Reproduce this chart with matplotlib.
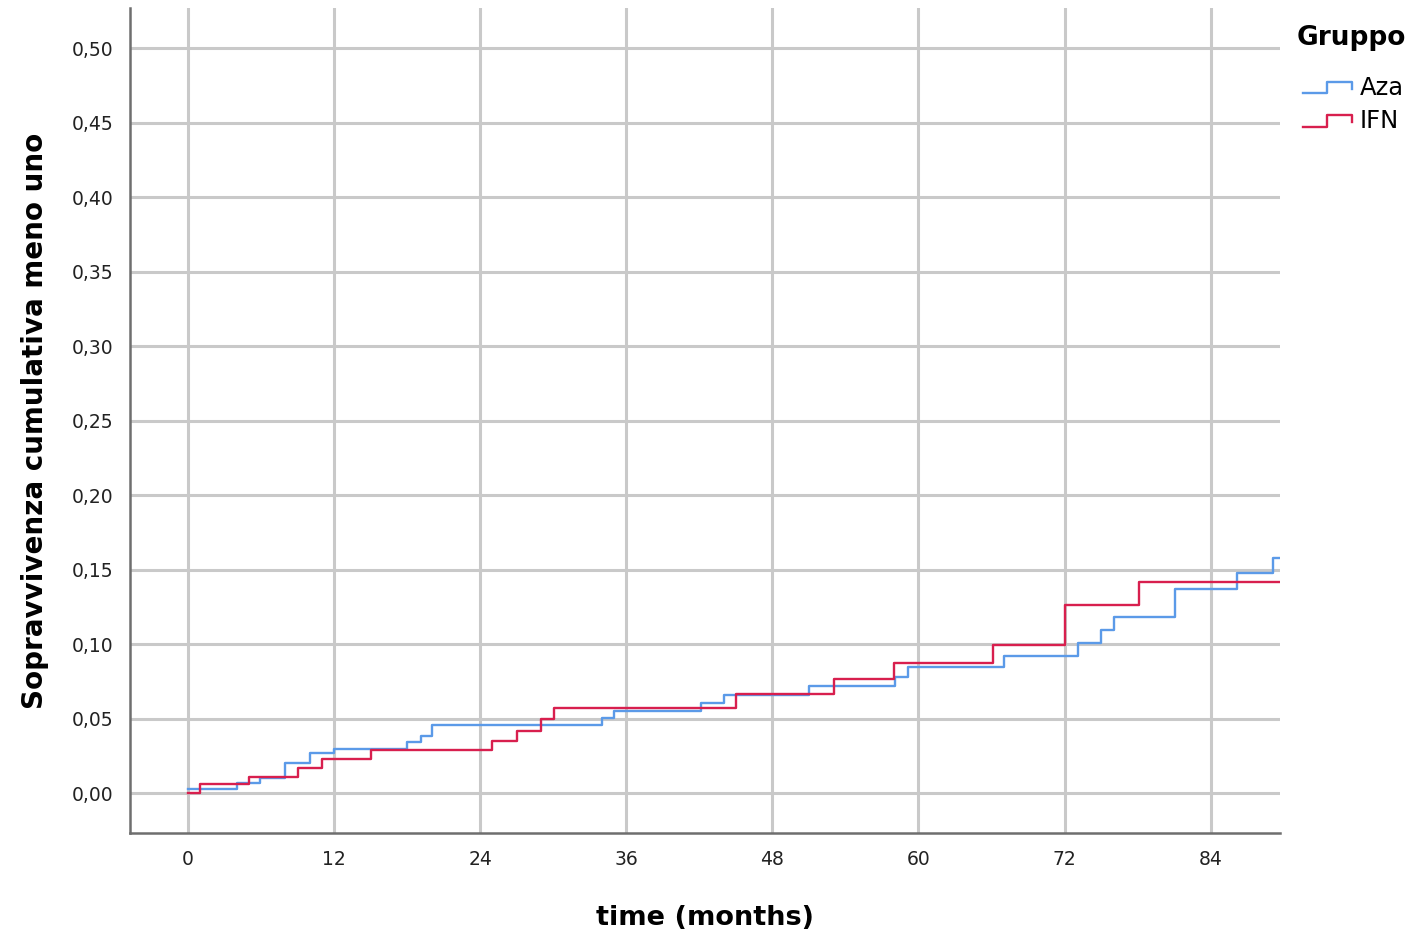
"""Cumulative incidence (1 - survival) step plot, Aza vs IFN."""

import matplotlib
matplotlib.use("Agg")
import matplotlib.pyplot as plt
from matplotlib.legend_handler import HandlerLine2D
from matplotlib.lines import Line2D

# step curves (time in months, 1 - S(t))
aza_time = [0, 4.0, 5.9, 8.0, 10.0, 12.0, 18.0, 19.1, 20.0, 34.0, 35.0, 42.1, 44.0,
            51.0, 58.1, 59.1, 67.0, 73.1, 75.0, 76.1, 81.1, 86.2, 89.1, 90.0]
aza_value = [0.003, 0.0067, 0.0103, 0.0203, 0.0268, 0.0295, 0.034, 0.038, 0.0456,
             0.0505, 0.055, 0.0606, 0.0658, 0.0718, 0.078, 0.0848, 0.0921, 0.101,
             0.1094, 0.1179, 0.1367, 0.1475, 0.1575, 0.1575]

ifn_time = [0, 1.0, 5.0, 9.0, 11.0, 15.0, 25.0, 27.0, 29.0, 30.1, 45.0, 53.1, 58.0,
            66.1, 72.0, 78.1, 90.0]
ifn_value = [0.0, 0.0058, 0.011, 0.0168, 0.0228, 0.0289, 0.0351, 0.0418, 0.0494,
             0.0568, 0.0664, 0.0765, 0.0874, 0.0997, 0.1262, 0.1414, 0.1414]

x_ticks = [0, 12, 24, 36, 48, 60, 72, 84]
y_ticks = [0.00, 0.05, 0.10, 0.15, 0.20, 0.25, 0.30, 0.35, 0.40, 0.45, 0.50]

AZA_COLOR = "#5b9ae8"
IFN_COLOR = "#d81f4e"
GRID_COLOR = "#c9c9c9"

plt.rcParams["font.family"] = ["DejaVu Sans"]


class StepHandler(HandlerLine2D):
    """Legend handle drawn as a little step, like SPSS does."""

    def create_artists(self, legend, orig_handle, xdescent, ydescent,
                       width, height, fontsize, trans):
        y0 = -ydescent + height * 0.1
        y1 = -ydescent + height * 0.75
        xs = [-xdescent, -xdescent + width * 0.5, -xdescent + width * 0.5,
              -xdescent + width, -xdescent + width]
        ys = [y0, y0, y1, y1, y0 + height * 0.25]
        line = Line2D(xs, ys, color=orig_handle.get_color(),
                      linewidth=orig_handle.get_linewidth())
        line.set_transform(trans)
        return [line]


fig = plt.figure(figsize=(14.2, 9.4), dpi=100)
ax = fig.add_axes([130 / 1420, 1 - 833 / 940, 1150 / 1420, 825 / 940])

aza_line, = ax.step(aza_time, aza_value, where="post", color=AZA_COLOR,
                    linewidth=1.7, label="Aza", zorder=3)
ifn_line, = ax.step(ifn_time, ifn_value, where="post", color=IFN_COLOR,
                    linewidth=1.7, label="IFN", zorder=4)

ax.set_xlim(-4.77, 89.7)
ax.set_ylim(-0.0268, 0.527)
ax.set_xticks(x_ticks)
ax.set_yticks(y_ticks)
ax.set_yticklabels([f"{v:.2f}".replace(".", ",") for v in y_ticks])
ax.tick_params(length=0, labelsize=13.5, colors="#222222", pad=12)
ax.grid(True, color=GRID_COLOR, linewidth=2.2)
ax.set_axisbelow(True)

for side in ("top", "right"):
    ax.spines[side].set_visible(False)
for side in ("left", "bottom"):
    ax.spines[side].set_color("#6e6e6e")
    ax.spines[side].set_linewidth(1.8)

ax.set_xlabel("time (months)", fontsize=19.5, fontweight="bold", labelpad=26)
ax.set_ylabel("Sopravvivenza cumulativa meno uno", fontsize=20,
              fontweight="bold", labelpad=16)

# legend title drawn apart so the gap to the entries can match
fig.text(1297 / 1420, 1 - 38 / 940, "Gruppo", fontsize=19, fontweight="bold",
         ha="left", va="center")
fig.legend(handles=[aza_line, ifn_line], loc="upper left",
           bbox_to_anchor=(1303 / 1420, 1 - 76 / 940), frameon=False,
           borderaxespad=0, borderpad=0, fontsize=17.5, handlelength=2.0,
           handletextpad=0.33, labelspacing=0.38,
           handler_map={Line2D: StepHandler()})

fig.savefig("out.png", dpi=100)
